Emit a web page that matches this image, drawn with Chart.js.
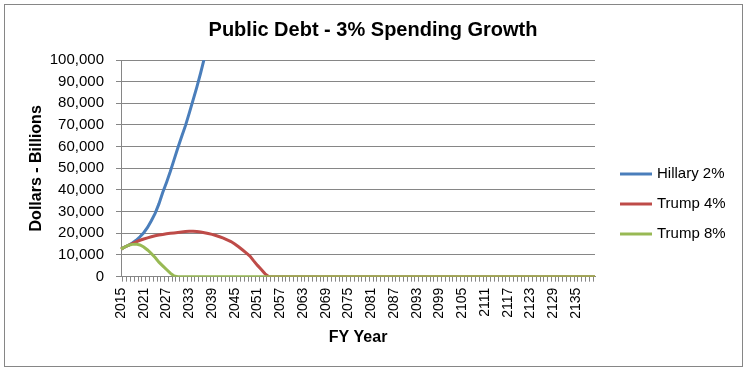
<!DOCTYPE html>
<html><head><meta charset="utf-8">
<script src="https://cdn.jsdelivr.net/npm/chart.js@4.4.1/dist/chart.umd.min.js"></script>
<style>html,body{margin:0;padding:0;background:#fff}#wrap{width:748px;height:371px}</style>
</head><body><div id="wrap"><canvas id="c" width="748" height="371"></canvas></div>
<script>
// Categories: fiscal years 2015..2140
const years = [];
for (let y = 2015; y <= 2140; y++) years.push(String(y));

// Series values (billions of dollars)
const hillary2 = [12700, 13700, 14500, 15500, 16800, 18400, 20300, 22700, 25800, 29200,
  33600, 38800, 43500, 48500, 54000, 59500, 64700, 69700, 75500, 81500,
  87500, 94000, 101000];

const trump4 = [12700, 13700, 14500, 15300, 16100, 16800, 17400, 17900, 18400, 18900,
  19200, 19500, 19800, 20000, 20200, 20400, 20600, 20800, 20900, 20900,
  20800, 20600, 20300, 19900, 19500, 19000, 18400, 17800, 17000, 16200,
  15100, 13800, 12400, 11000, 9500, 7300, 5200, 3300, 1300,
  0,0,0,0,0,0,0,0,0,0, 0,0,0,0,0,0,0,0,0,0, 0,0,0,0,0,0,0,0,0,0,
  0,0,0,0,0,0,0,0,0,0, 0,0,0,0,0,0,0,0,0,0, 0,0,0,0,0,0,0,0,0,0,
  0,0,0,0,0,0,0,0,0,0, 0,0,0,0,0,0,0,0,0,0, 0,0,0,0,0,0,0];

const trump8 = [12700, 13700, 14500, 14900, 15000, 14600, 13700, 12300, 10700, 8800,
  6700, 5000, 3300, 1600, 300,
  0,0,0,0,0,0,0,0,0,0, 0,0,0,0,0,0,0,0,0,0, 0,0,0,0,0,0,0,0,0,0,
  0,0,0,0,0,0,0,0,0,0, 0,0,0,0,0,0,0,0,0,0, 0,0,0,0,0,0,0,0,0,0,
  0,0,0,0,0,0,0,0,0,0, 0,0,0,0,0,0,0,0,0,0, 0,0,0,0,0,0,0,0,0,0,
  0,0,0,0,0,0,0,0,0,0, 0,0,0,0,0,0,0,0,0,0, 0];

const seriesNames = ['Hillary 2%', 'Trump 4%', 'Trump 8%'];
const seriesColors = ['#4A7EBB', '#BE4B48', '#98B954'];
const labelEvery = 6;

const font = 'Liberation Sans, Arial, sans-serif';

const frame = {
  id: 'frame',
  beforeDraw(chart) {
    const c = chart.ctx;
    c.save();
    c.fillStyle = '#fff';
    c.fillRect(0, 0, chart.width, chart.height);
    c.strokeStyle = '#868686';
    c.lineWidth = 1;
    c.strokeRect(4.5, 4.5, 738, 362);
    c.restore();
  }
};

// Legend drawn beside the plot (Excel-style line samples)
const sideLegend = {
  id: 'sideLegend',
  afterDraw(chart) {
    const c = chart.ctx;
    const area = chart.chartArea;
    c.save();
    c.font = '15px ' + font;
    c.textBaseline = 'middle';
    c.textAlign = 'left';
    chart.data.datasets.forEach((ds, i) => {
      const y = 174 + i * 30;
      const x0 = area.right + 25;
      c.strokeStyle = ds.borderColor;
      c.lineWidth = 3;
      c.beginPath();
      c.moveTo(x0, y);
      c.lineTo(x0 + 32, y);
      c.stroke();
      c.fillStyle = '#000';
      c.fillText(ds.label, x0 + 37, y);
    });
    c.restore();
  }
};

new Chart(document.getElementById('c'), {
  type: 'line',
  data: {
    labels: years,
    datasets: [
      { label: seriesNames[0], data: hillary2, borderColor: seriesColors[0], backgroundColor: seriesColors[0], borderWidth: 3, pointRadius: 0, tension: 0, order: 2, clip: 0 },
      { label: seriesNames[1], data: trump4, borderColor: seriesColors[1], backgroundColor: seriesColors[1], borderWidth: 3, pointRadius: 0, tension: 0, order: 1 },
      { label: seriesNames[2], data: trump8, borderColor: seriesColors[2], backgroundColor: seriesColors[2], borderWidth: 3, pointRadius: 0, tension: 0, order: 0 }
    ]
  },
  options: {
    responsive: false,
    animation: false,
    layout: { padding: { left: 23, right: 25, top: 8, bottom: 24 } },
    plugins: {
      title: { display: true, text: 'Public Debt - 3% Spending Growth', color: '#000',
        font: { family: font, size: 20, weight: 'bold' }, padding: { top: 10, bottom: 18 } },
      legend: { display: false },
      tooltip: { enabled: false }
    },
    scales: {
      x: {
        ticks: { autoSkip: false, minRotation: 90, maxRotation: 90, color: '#000', padding: 6,
          font: { family: font, size: 14 },
          callback: (v, i) => (i % labelEvery === 0 ? years[i] : '') },
        grid: { drawOnChartArea: false, tickLength: 5, color: '#868686', offset: true },
        border: { color: '#868686' },
        title: { display: true, text: 'FY Year', color: '#000', font: { family: font, size: 16, weight: 'bold' }, padding: { top: 3, bottom: 0 } }
      },
      y: {
        min: 0, max: 100000,
        ticks: { stepSize: 10000, color: '#000', padding: 12, font: { family: font, size: 15 },
          callback: v => v.toLocaleString('en-US') },
        grid: { color: '#868686', tickLength: 5 },
        border: { color: '#868686' },
        title: { display: true, text: 'Dollars - Billions', color: '#000', font: { family: font, size: 16, weight: 'bold' }, padding: { top: 4, bottom: 4 } },
        afterFit: s => { s.width = 98; }
      },
      legendSpace: {
        type: 'linear', position: 'right', display: true,
        ticks: { display: false }, grid: { display: false }, border: { display: false },
        afterFit: s => { s.width = 128; }
      }
    }
  },
  plugins: [frame, sideLegend]
});
</script>
</body></html>
